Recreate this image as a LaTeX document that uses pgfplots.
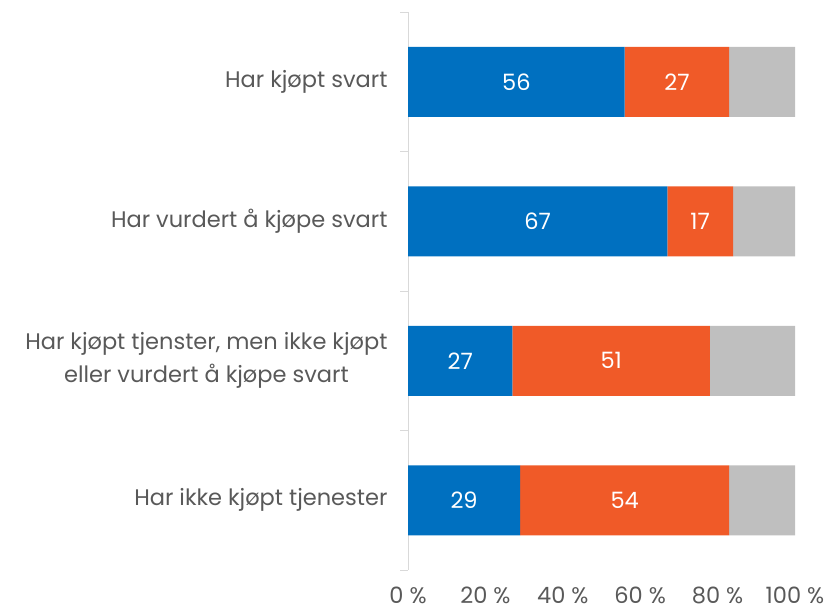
\documentclass[border=0pt]{standalone}
\usepackage{pgfplots}
\usepackage{pgfplotstable}
\pgfplotsset{compat=1.18}
\usepackage{fontspec}
\setmainfont{Poppins}
\definecolor{cblue}{HTML}{0070C0}
\definecolor{corange}{HTML}{F05A28}
\definecolor{cgray}{HTML}{BFBFBF}
\definecolor{ctext}{HTML}{595959}
\definecolor{caxis}{HTML}{D9D9D9}
\pgfplotstableread{
y a b c
0 56 27 17
1 67 17 16
2 27 51 22
3 29 54 17
}\data
\begin{document}
\begin{tikzpicture}
\useasboundingbox (0,0) rectangle (832bp,611bp);
\begin{axis}[
  at={(408bp,41bp)}, anchor=south west,
  scale only axis, width=387bp, height=558bp,
  xbar stacked, bar width=70bp,
  xmin=0, xmax=100, ymin=-0.5, ymax=3.5, y dir=reverse,
  axis x line*=bottom, x axis line style={draw=none},
  axis y line*=left, y axis line style={draw=caxis, line width=1bp},
  xtick={0,20,40,60,80,100},
  xticklabels={0 \%,20 \%,40 \%,60 \%,80 \%,100 \%},
  xtick style={draw=none},
  xticklabel style={text=ctext, font=\fontsize{22.5bp}{26bp}\selectfont, yshift=-13bp},
  ytick={0,1,2,3},
  yticklabels={Har kjøpt svart, Har vurdert å kjøpe svart, {Har kjøpt tjenster, men ikke kjøpt\\eller vurdert å kjøpe svart}, Har ikke kjøpt tjenester},
  major tick length=0pt,
  minor ytick={-0.5,0.5,1.5,2.5,3.5},
  minor tick length=8bp,
  tick align=outside,
  ytick style={draw=caxis, line width=1bp},
  yticklabel style={text=ctext, align=center, font=\fontsize{22.5bp}{33bp}\selectfont, xshift=-17bp},
  point meta=explicit symbolic,
  every node near coord/.append style={text=white, font=\fontsize{22.5bp}{26bp}\selectfont, anchor=center},
]
\addplot[fill=cblue, draw=none, nodes near coords]
  table[x=a, y=y, meta=a] \data;
\addplot[fill=corange, draw=none, nodes near coords]
  table[x=b, y=y, meta=b] \data;
\addplot[fill=cgray, draw=none]
  table[x=c, y=y, meta=c] \data;
\end{axis}
\end{tikzpicture}
\end{document}
